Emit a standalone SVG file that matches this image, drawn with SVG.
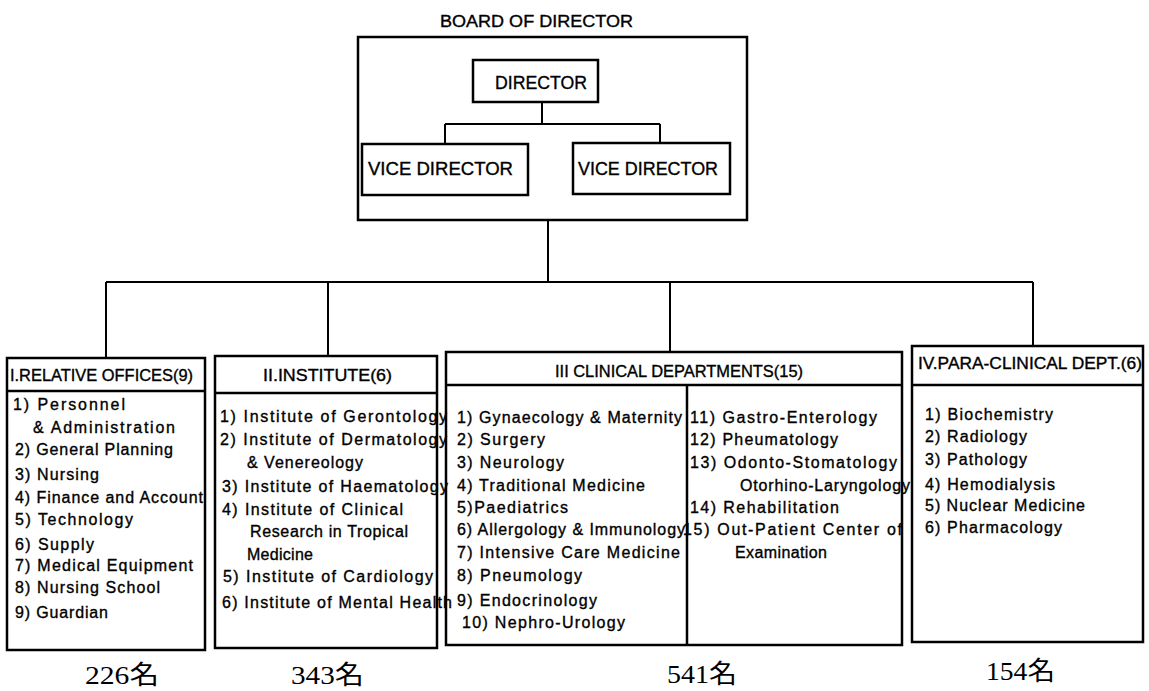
<svg xmlns="http://www.w3.org/2000/svg" width="1149" height="691" viewBox="0 0 1149 691">
<style>
.bx{fill:none;stroke:#000;stroke-width:2.5}
.ln{fill:none;stroke:#000;stroke-width:2}
text{font-family:"Liberation Sans",Arial,sans-serif;fill:#000;stroke:#000;stroke-width:0.35}
.t{font-size:16px}
.h{font-size:16px}
.big{font-size:18px}
.cnt{font-family:"Liberation Serif","Noto Sans CJK JP",serif;font-size:26px;stroke-width:0}
</style>
<rect width="1149" height="691" fill="#fff"/>
<g id="connectors">
<line class="ln" x1="542" y1="102" x2="542" y2="124"/>
<line class="ln" x1="445" y1="124" x2="660" y2="124"/>
<line class="ln" x1="445" y1="124" x2="445" y2="144"/>
<line class="ln" x1="660" y1="124" x2="660" y2="143"/>
<line class="ln" x1="548" y1="220" x2="548" y2="282"/>
<line class="ln" x1="106" y1="282" x2="1033" y2="282"/>
<line class="ln" x1="106" y1="282" x2="106" y2="358"/>
<line class="ln" x1="328" y1="282" x2="328" y2="356"/>
<line class="ln" x1="670" y1="282" x2="670" y2="352"/>
<line class="ln" x1="1033" y1="282" x2="1033" y2="346"/>
</g>
<g id="board">
<text x="440" y="27" font-size="17" textLength="193" lengthAdjust="spacingAndGlyphs">BOARD OF DIRECTOR</text>
<rect class="bx" x="358" y="37" width="389" height="183"/>
</g>
<g id="director">
<rect class="bx" x="473" y="60" width="125" height="42"/>
<text class="big" x="495" y="89" textLength="92" lengthAdjust="spacingAndGlyphs">DIRECTOR</text>
</g>
<g id="vice1">
<rect class="bx" x="362" y="144" width="166" height="51"/>
<text class="big" x="368" y="175" textLength="145" lengthAdjust="spacingAndGlyphs">VICE DIRECTOR</text>
</g>
<g id="vice2">
<rect class="bx" x="573" y="143" width="157" height="51"/>
<text class="big" x="578" y="175" textLength="140" lengthAdjust="spacingAndGlyphs">VICE DIRECTOR</text>
</g>
<g id="box1">
<rect class="bx" x="7" y="358" width="198" height="292"/>
<line class="bx" x1="7" y1="391" x2="205" y2="391"/>
<text class="h" x="10" y="381" textLength="183" lengthAdjust="spacingAndGlyphs">I.RELATIVE OFFICES(9)</text>
<g class="t">
<text x="13" y="410" textLength="112">1) Personnel</text>
<text x="33" y="433" textLength="142">&amp; Administration</text>
<text x="15" y="455" textLength="158">2) General Planning</text>
<text x="15" y="480" textLength="84">3) Nursing</text>
<text x="15" y="503" textLength="188">4) Finance and Account</text>
<text x="15" y="525" textLength="118">5) Technology</text>
<text x="15" y="550" textLength="79">6) Supply</text>
<text x="15" y="571" textLength="178">7) Medical Equipment</text>
<text x="15" y="593" textLength="145">8) Nursing School</text>
<text x="15" y="618" textLength="93">9) Guardian</text>
</g>
</g>
<g id="box2">
<rect class="bx" x="215" y="356" width="222" height="292"/>
<line class="bx" x1="215" y1="393" x2="437" y2="393"/>
<text class="h" x="263" y="381" textLength="129" lengthAdjust="spacingAndGlyphs">II.INSTITUTE(6)</text>
<g class="t">
<text x="220" y="422" textLength="227">1) Institute of Gerontology</text>
<text x="220" y="445" textLength="227">2) Institute of Dermatology</text>
<text x="247" y="468" textLength="116">&amp; Venereology</text>
<text x="222" y="492" textLength="226">3) Institute of Haematology</text>
<text x="222" y="515" textLength="181">4) Institute of Clinical</text>
<text x="250" y="537" textLength="158">Research in Tropical</text>
<text x="247" y="560" textLength="66">Medicine</text>
<text x="223" y="582" textLength="210">5) Institute of Cardiology</text>
<text x="222" y="608" textLength="230">6) Institute of Mental Health</text>
</g>
</g>
<g id="box3">
<rect class="bx" x="446" y="352" width="456" height="293"/>
<line class="bx" x1="446" y1="385" x2="902" y2="385"/>
<line class="bx" x1="687" y1="385" x2="687" y2="645"/>
<text class="h" x="555" y="377" textLength="248" lengthAdjust="spacingAndGlyphs">III CLINICAL DEPARTMENTS(15)</text>
<g class="t">
<text x="457" y="423" textLength="225">1) Gynaecology &amp; Maternity</text>
<text x="457" y="445" textLength="88">2) Surgery</text>
<text x="457" y="468" textLength="107">3) Neurology</text>
<text x="457" y="491" textLength="188">4) Traditional Medicine</text>
<text x="457" y="513" textLength="111">5)Paediatrics</text>
<text x="457" y="535" textLength="228">6) Allergology &amp; Immunology</text>
<text x="457" y="558" textLength="223">7) Intensive Care Medicine</text>
<text x="457" y="581" textLength="125">8) Pneumology</text>
<text x="457" y="606" textLength="140">9) Endocrinology</text>
<text x="462" y="628" textLength="163">10) Nephro-Urology</text>
<text x="690" y="423" textLength="187">11) Gastro-Enterology</text>
<text x="690" y="445" textLength="148">12) Pheumatology</text>
<text x="690" y="468" textLength="207">13) Odonto-Stomatology</text>
<text x="740" y="491" textLength="170">Otorhino-Laryngology</text>
<text x="690" y="513" textLength="149">14) Rehabilitation</text>
<text x="683" y="535" textLength="219">15) Out-Patient Center of</text>
<text x="735" y="558" textLength="92">Examination</text>
</g>
</g>
<g id="box4">
<rect class="bx" x="912" y="346" width="231" height="296"/>
<line class="bx" x1="912" y1="385" x2="1143" y2="385"/>
<text class="h" x="918" y="369" textLength="224" lengthAdjust="spacingAndGlyphs">IV.PARA-CLINICAL DEPT.(6)</text>
<g class="t">
<text x="925" y="420" textLength="128">1) Biochemistry</text>
<text x="925" y="442" textLength="102">2) Radiology</text>
<text x="925" y="465" textLength="102">3) Pathology</text>
<text x="925" y="490" textLength="130">4) Hemodialysis</text>
<text x="925" y="511" textLength="160">5) Nuclear Medicine</text>
<text x="925" y="533" textLength="137">6) Pharmacology</text>
</g>
</g>
<g id="counts">
<text class="cnt" x="85" y="684" textLength="74" lengthAdjust="spacingAndGlyphs">226名</text>
<text class="cnt" x="291" y="684" textLength="73" lengthAdjust="spacingAndGlyphs">343名</text>
<text class="cnt" x="667" y="683" textLength="70" lengthAdjust="spacingAndGlyphs">541名</text>
<text class="cnt" x="986" y="680" textLength="69" lengthAdjust="spacingAndGlyphs">154名</text>
</g>
</svg>
